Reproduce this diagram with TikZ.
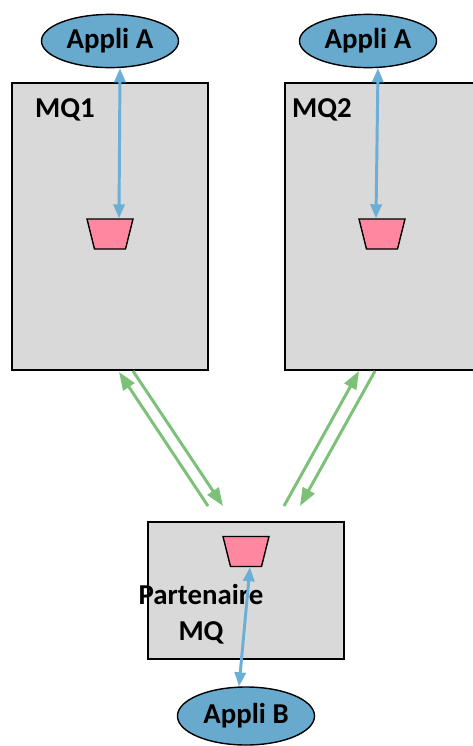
\documentclass[tikz,border=0pt]{standalone}
\usepackage{fontspec}
\setmainfont{Carlito}
\usepackage{tikz}
\usetikzlibrary{arrows.meta,shapes.geometric}
\definecolor{mqgris}{RGB}{217,217,217}
\definecolor{applibleu}{RGB}{104,170,206}
\definecolor{filerose}{RGB}{255,136,160}
\definecolor{lienvert}{RGB}{125,192,120}
\definecolor{lienbleu}{RGB}{107,174,214}

\tikzset{
  boite/.style={draw=black,fill=mqgris,line width=0.8pt,inner sep=0pt},
  appli/.style={ellipse,draw=black,fill=applibleu,line width=1pt,minimum width=3.425cm,
    minimum height=1.33cm,inner sep=0pt,font=\fontsize{20.5}{24}\selectfont\bfseries},
  file/.style={trapezium,shape border rotate=180,trapezium angle=76,
    draw=black,fill=filerose,line width=1pt,inner xsep=0.3875cm,inner ysep=0.375cm},
  titre/.style={font=\fontsize{20.5}{25.6}\selectfont\bfseries,align=center},
  fleche bleue/.style={draw=lienbleu,line width=2.1pt,
    {Triangle[length=0.35cm,width=0.28cm]}-{Triangle[length=0.35cm,width=0.28cm]}},
  fleche verte/.style={draw=lienvert,line width=2.1pt,-{Triangle[length=0.45cm,width=0.33cm]}}
}

\begin{document}
\begin{tikzpicture}[x=0.025cm,y=-0.025cm]
\useasboundingbox (0,0) rectangle (473,746);
% Gestionnaires de files
\node[boite,minimum width=4.9cm,minimum height=7.175cm] (mq1) at (110,226.5) {};
\node[boite,minimum width=4.9cm,minimum height=7.175cm] (mq2) at (383,226.5) {};
\node[boite,minimum width=4.9cm,minimum height=3.425cm] (part) at (246,590.5) {};
\node[titre] (lblmq1) at (65,110) {MQ1};
\node[titre] (lblmq2) at (322,110) {MQ2};
% Files
\node[file] (q1) at (110,234) {};
\node[file] (q2) at (382,234) {};
\node[file] (q3) at (246,551.5) {};
\node[titre] (lblpart) at (201,614) {Partenaire\\MQ};
% Applications
\node[appli] (appliA1) at (110,41) {Appli A};
\node[appli] (appliA2) at (368,41) {Appli A};
\node[appli,minimum height=1.45cm] (appliB) at (246,716) {Appli B};
\draw[fleche bleue] ([xshift=0.25cm]appliA1.south) -- ([xshift=0.225cm]q1.north);
\draw[fleche bleue] ([xshift=0.25cm]appliA2.south) -- ([xshift=-0.15cm]q2.north);
\draw[fleche bleue] ([xshift=0.1cm]q3.south) -- ([xshift=-0.175cm]appliB.north);
% Canaux entre les gestionnaires
\coordinate (c1a) at (208,506);
\coordinate (c1b) at (119,372);
\coordinate (c2a) at (133,371);
\coordinate (c2b) at (223,506);
\coordinate (c3a) at (284,506);
\coordinate (c3b) at (359,371);
\coordinate (c4a) at (375,371);
\coordinate (c4b) at (300,506);
\draw[fleche verte] (c1a) -- (c1b);
\draw[fleche verte] (c2a) -- (c2b);
\draw[fleche verte] (c3a) -- (c3b);
\draw[fleche verte] (c4a) -- (c4b);
\end{tikzpicture}
\end{document}
